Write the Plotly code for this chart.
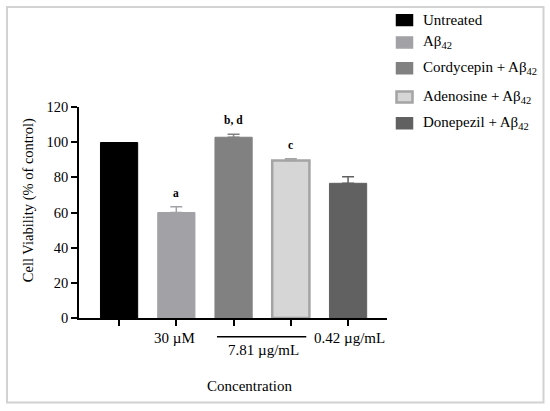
import plotly.graph_objects as go

# data
groups = ["Untreated", "Aβ<sub>42</sub>", "Cordycepin + Aβ<sub>42</sub>",
          "Adenosine + Aβ<sub>42</sub>", "Donepezil + Aβ<sub>42</sub>"]
viability = [99.8, 60.0, 102.8, 89.6, 76.6]
sem = [0.0, 3.2, 1.7, 1.0, 3.7]
letters = ["", "a", "b, d", "c", ""]
conc_labels = ["30 µM", "7.81 µg/mL", "0.42 µg/mL"]
conc_pos = [0.96, 2.52, 4.03]
y_ticks = [0, 20, 40, 60, 80, 100, 120]

fills = ["#000000", "#a2a2a6", "#818181", "#d6d6d6", "#616161"]
edges = ["#000000", "#a2a2a6", "#818181", "#a4a4a4", "#616161"]
edge_w = [1, 1, 1, 2.5, 1]

FONT = "Liberation Serif"
W, H = 550, 411
L, R, T, B = 79, 387, 106.7, 318  # plot area in pixels
X0, X1 = -0.7, 4.68


def px(x):
    return (x - L) / (R - L)


def py(y):
    return (B - y) / (B - T)


def label(x, y, text, **kw):
    # text placed by pixel-ish paper coords, always centred
    fig.add_annotation(x=x, y=y, text=text, showarrow=False,
                       xanchor=kw.pop("xanchor", "center"),
                       yanchor=kw.pop("yanchor", "middle"),
                       font=dict(family=FONT, size=kw.pop("size", 15), color="black"),
                       **kw)


fig = go.Figure()

for i, name in enumerate(groups):
    fig.add_trace(go.Bar(
        x=[i], y=[viability[i]], name=name, width=0.65,
        marker=dict(color=fills[i], line=dict(color=edges[i], width=edge_w[i])),
        error_y=dict(type="data", symmetric=False, array=[sem[i]], arrayminus=[0],
                     color=edges[i], thickness=1.5, width=6,
                     visible=sem[i] > 0),
        showlegend=False))

# significance letters
for i, t in enumerate(letters):
    if t:
        label(i, viability[i] + sem[i], "<b>" + t + "</b>", yanchor="bottom",
              yshift=6, size=11.5)

# concentration labels under the axis
label(conc_pos[0], py(337.7), conc_labels[0], yref="paper")
label(conc_pos[1], py(350), conc_labels[1], yref="paper")
label(conc_pos[2], py(337.7), conc_labels[2], yref="paper")
fig.add_shape(type="line", x0=1.71, x1=3.27, y0=py(336.7), y1=py(336.7),
              xref="x", yref="paper", line=dict(color="black", width=1.5))

label(px(249), py(386), "Concentration", xref="paper", yref="paper")
label(px(28), py(200), "Cell Viability (% of control)", xref="paper", yref="paper",
      textangle=-90, size=14.5)

# hand-made legend to keep the uneven spacing of the original
rows = [19.7, 42, 68, 96.7, 123]
for i, name in enumerate(groups):
    yc = rows[i]
    fig.add_shape(type="rect", xref="paper", yref="paper",
                  x0=px(396.5), x1=px(412.5), y0=py(yc - 5.5), y1=py(yc + 5.5),
                  fillcolor=fills[i], line=dict(color=edges[i], width=max(edge_w[i], 1.5)))
    label(px(421), py(yc), name, xref="paper", yref="paper", xanchor="left")

# outer frame
fig.add_shape(type="rect", xref="paper", yref="paper",
              x0=px(7), x1=px(543.5), y0=py(402.5), y1=py(6.5),
              line=dict(color="#d2d2d2", width=2))

fig.update_xaxes(range=[X0, X1], tickvals=[0, 1, 2, 3, 4], ticktext=[""] * 5,
                 ticks="outside", ticklen=6, tickwidth=1.5, tickcolor="black",
                 showline=True, linecolor="black", linewidth=1.5,
                 showgrid=False, zeroline=False)
fig.update_yaxes(range=[0, 120], tickvals=y_ticks,
                 ticks="outside", ticklen=6, tickwidth=1.5, tickcolor="black",
                 showline=True, linecolor="black", linewidth=1.5,
                 showgrid=False, zeroline=False,
                 tickfont=dict(family=FONT, size=14.5, color="black"))

fig.update_layout(
    width=W, height=H, autosize=False,
    margin=dict(l=L, r=W - R, t=T, b=H - B, pad=0),
    plot_bgcolor="white", paper_bgcolor="white",
    barmode="overlay", bargap=0.35,
    font=dict(family=FONT, color="black"))

# page body has a default 8px margin; drop it so the figure sits at 0,0
fig.write_html("out.html", config={"displayModeBar": False},
               post_script="document.body.style.margin='0';")
